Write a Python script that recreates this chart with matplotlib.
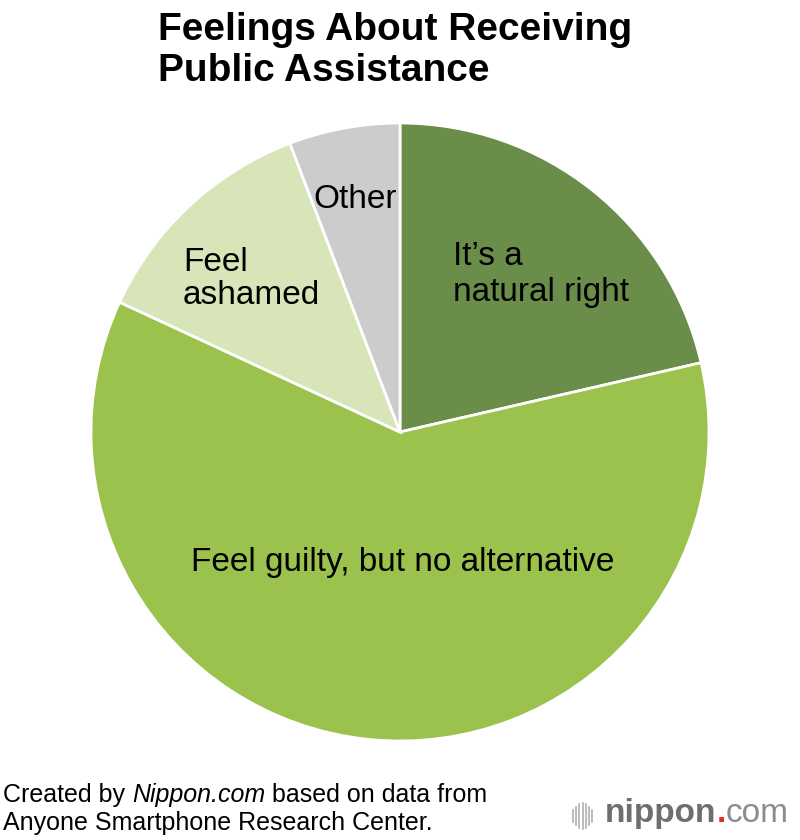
import matplotlib
matplotlib.use("Agg")
import matplotlib.pyplot as plt
from matplotlib.lines import Line2D

plt.rcParams['font.family'] = ['Liberation Sans', 'DejaVu Sans']

categories = ["It\u2019s a\nnatural right", "Feel guilty, but no alternative", "Feel\nashamed", "Other"]
values = [21.4, 60.5, 12.3, 5.8]
colors = ["#6a8d4a", "#9bc24c", "#d8e5b9", "#cccccc"]

title_lines = ["Feelings About Receiving", "Public Assistance"]

fig = plt.figure(figsize=(8, 8.4), dpi=100)
renderer = fig.canvas.get_renderer()
cx, cy, r = 400, 432, 309
W, H = 800, 840
ax = fig.add_axes([(cx - r) / W, 1 - (cy + r) / H, 2 * r / W, 2 * r / H])
wedges, _ = ax.pie(values, colors=colors, startangle=90, counterclock=False,
                   radius=1, wedgeprops=dict(edgecolor='white', linewidth=2))
ax.set_xlim(-1, 1)
ax.set_ylim(-1, 1)
ax.set_aspect('equal')
ax.axis('off')

def px(x, y):
    return ((x - cx) / r, (cy - y) / r)

lab_fs = 24
# (x, first baseline, line pitch, ha) in pixels for each label
label_pos = [(453, 265, 36, 'left'), (403, 571, 0, 'center'),
             (183, 271, 33, 'left'), (355, 208, 0, 'center')]
for lab, (lx0, by, pitch, ha) in zip(categories, label_pos):
    for k, line in enumerate(lab.split("\n")):
        x, y = px(lx0, by + k * pitch)
        ax.text(x, y, line, fontsize=lab_fs, ha=ha, va='baseline')

for k, line in enumerate(title_lines):
    fig.text(158 / W, 1 - (40 + k * 41) / H, line, fontsize=28, fontweight='bold',
             ha='left', va='baseline')

parts = [("Created by ", 'normal'), ("Nippon.com", 'italic'), (" based on data from", 'normal')]
xpos = 3
for s, st in parts:
    t = fig.text(xpos / W, 1 - 802 / H, s, fontsize=18, style=st, ha='left', va='baseline')
    xpos += t.get_window_extent(renderer).width
fig.text(3 / W, 1 - 830 / H, "Anyone Smartphone Research Center.", fontsize=18,
         ha='left', va='baseline')

# logo
lx = 573
for i, h in enumerate([12, 18, 24, 26, 24, 18, 12]):
    xx = (lx + i * 3.2) / W
    fig.add_artist(Line2D([xx, xx], [1 - (816 + h / 2) / H, 1 - (816 - h / 2) / H],
                          color='#b0b0b0', lw=1.2))
xpos = 605
for s, col, wt in [("nippon", '#6e6e6e', 'bold'), (".", '#e0301e', 'bold'), ("com", '#8c8c8c', 'normal')]:
    t = fig.text(xpos / W, 1 - 822 / H, s, fontsize=24, color=col, fontweight=wt,
                 ha='left', va='baseline')
    xpos += t.get_window_extent(renderer).width

fig.savefig("out.png", dpi=100)
